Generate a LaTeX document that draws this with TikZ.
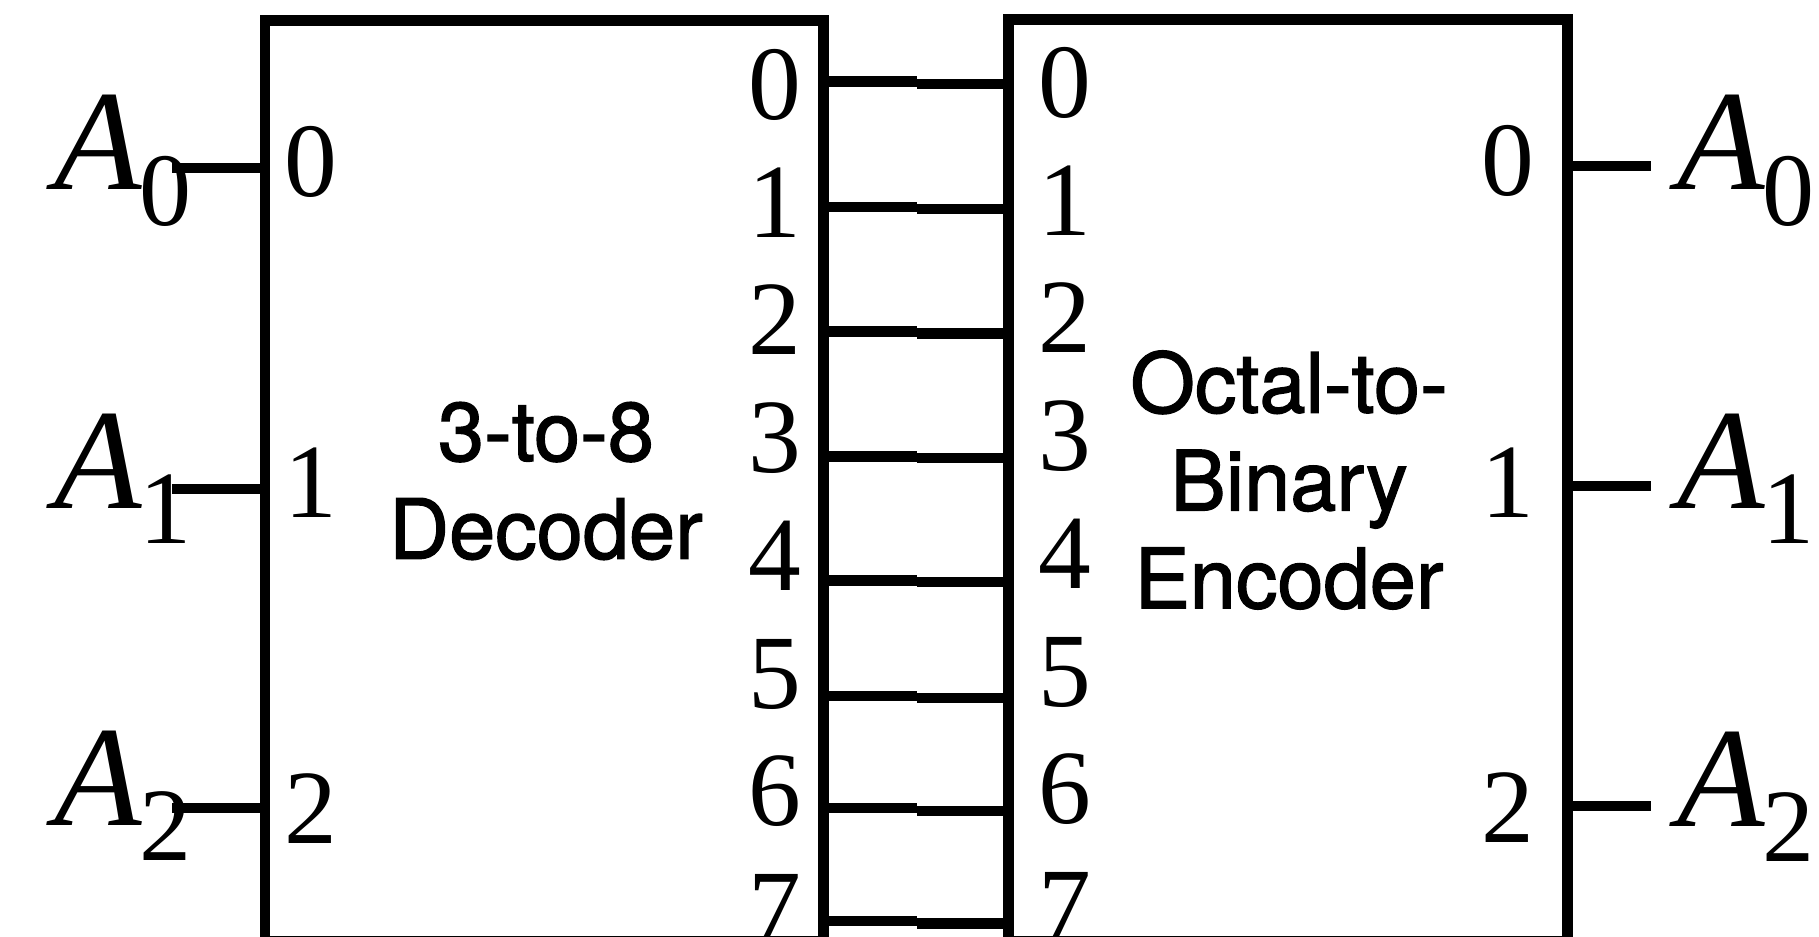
\documentclass[tikz,border=0pt]{standalone}
\usepackage{fontspec}
\setmainfont{Liberation Serif}
\newfontfamily\blocksans{TeX Gyre Heros}[FakeBold=1.6]
\newcommand\sigA[1]{{\fontsize{40.7}{48}\selectfont\itshape A}\kern-0.03cm\raisebox{-0.35cm}{\fontsize{29.6}{36}\selectfont #1}}
\begin{document}
\begin{tikzpicture}[x=0.01cm,y=-0.01cm,
  blk/.style={draw, line width=3.1pt, inner sep=0, outer sep=0, anchor=north west},
  wire/.style={line width=3.1pt},
  pin/.style={inner sep=0, anchor=base, font=\fontsize{30}{36}\selectfont},
  sig/.style={inner sep=0, anchor=base west},
  title/.style={align=center, inner sep=0, font=\blocksans\fontsize{23.6}{27.8}\selectfont}]
\clip (0,0) rectangle (1819,937);
\node[blk, minimum width=5.585cm, minimum height=9.205cm] (dec) at (265,20.5) {};
\node[blk, minimum width=5.59cm, minimum height=9.215cm] (enc) at (1008.5,19.5) {};
% input signal labels
\node[sig] (inA0) at (54,190) {\sigA{0}};
\node[sig] (inA1) at (54,508) {\sigA{1}};
\node[sig] (inA2) at (54,825) {\sigA{2}};
\node[sig] (outA0) at (1677,190) {\sigA{0}};
\node[sig] (outA1) at (1677,508) {\sigA{1}};
\node[sig] (outA2) at (1677,826) {\sigA{2}};
% input / output wires
\foreach \i/\y in {0/168,1/489,2/808} {
  \coordinate (li\i) at (172,\y);
  \draw[wire] (li\i) -- (li\i -| dec.west);
}
\foreach \i/\y in {0/166,1/486,2/806} {
  \coordinate (ro\i) at (1651,\y);
  \draw[wire] (enc.east |- ro\i) -- (ro\i);
}
% middle wires
\foreach \i/\yl/\yr in {0/81.5/84,1/207/209,2/331.5/333.5,3/456.5/458,4/580.5/582,5/696/698,6/808/811,7/921/923.5} {
  \coordinate (dl\i) at (917,\yl);
  \coordinate (dr\i) at (917,\yr);
  \draw[wire] (dec.east |- dl\i) -- (dl\i);
  \draw[wire] (dr\i) -- (dr\i -| enc.west);
}
% pin labels
\foreach \i in {0,...,7} {
  \node[pin] (do\i) at (775,{119.5+117.7*\i}) {\i};
  \node[pin] (ei\i) at (1065,{117.5+117.7*\i}) {\i};
}
\node[pin] (di0) at (311,197) {0};
\node[pin] (di1) at (311,517) {1};
\node[pin] (di2) at (311,843) {2};
\node[pin] (eo0) at (1508,196) {0};
\node[pin] (eo1) at (1508,517) {1};
\node[pin] (eo2) at (1508,842) {2};
% block titles
\node[title] (dectext) at (546,481) {3-to-8\\Decoder};
\node[title] (enctext) at (1289,480) {Octal-to-\\Binary\\Encoder};
\end{tikzpicture}
\end{document}
